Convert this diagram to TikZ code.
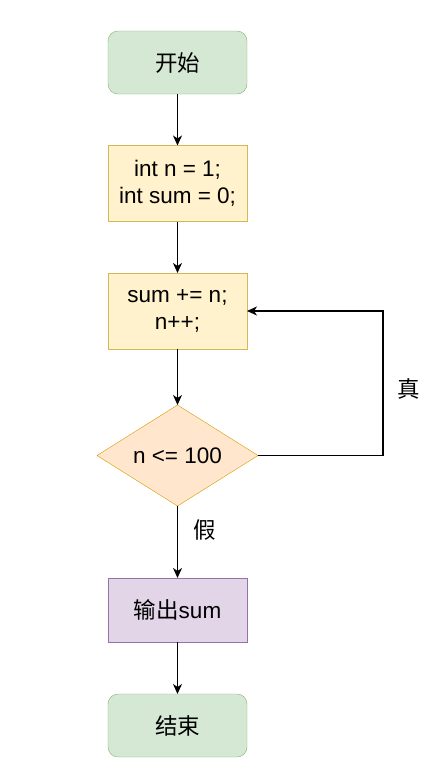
\documentclass[tikz,border=0pt]{standalone}
\usepackage{fontspec}
\setmainfont{Liberation Sans}
\newfontfamily\cjk{Noto Sans CJK SC}
\usetikzlibrary{shapes.geometric,arrows.meta}
\definecolor{termfill}{HTML}{D5E8D4}
\definecolor{termline}{HTML}{82B366}
\definecolor{stepfill}{HTML}{FFF2CC}
\definecolor{stepline}{HTML}{D6B656}
\definecolor{testfill}{HTML}{FFE6CC}
\definecolor{testline}{HTML}{D79B00}
\definecolor{outfill}{HTML}{E1D5E7}
\definecolor{outline}{HTML}{9673A6}
\begin{document}
\begin{tikzpicture}[x=1pt,y=-1pt,
   every node/.style={font=\fontsize{22.5}{27}\selectfont,align=center,outer sep=0pt},
   term/.style={draw=termline,fill=termfill,rounded corners=10pt,minimum width=139pt,minimum height=63pt},
   stepbox/.style={draw=stepline,fill=stepfill,minimum width=139pt,minimum height=76pt},
   test/.style={diamond,draw=testline,fill=testfill,aspect=1.6,minimum width=161pt,minimum height=101pt,inner sep=0pt},
   outbox/.style={draw=outline,fill=outfill,minimum width=139pt,minimum height=64pt},
   flow/.style={line width=1.2pt,-{Stealth[length=10pt,width=9pt,inset=3pt]}},
   lbl/.style={inner sep=0pt}]
\useasboundingbox (0,0) rectangle (437,777);
\node[term] (start) at (177.5,62.5) {{\cjk 开始}};
\node[stepbox] (init) at (177.5,183.5) {int n = 1;\\int sum = 0;};
\node[stepbox] (body) at (177.5,311) {sum += n;\\n++;};
\node[test] (cond) at (177.5,455.5) {n <= 100};
\node[outbox] (print) at (177.5,610) {{\cjk 输出}sum};
\node[term] (stop) at (177.5,725.5) {{\cjk 结束}};
% arrows
\draw[flow] (start) -- (init);
\draw[flow] (init) -- (body);
\draw[flow] (body) -- (cond);
\draw[flow] (cond) -- node[lbl,pos=0.33,right=16pt] {\cjk 假} (print);
\draw[flow] (print) -- (stop);
\draw[flow] (cond.east) -- ++(125,0) |- node[lbl,pos=0.23,right=14pt] {\cjk 真} (body.east);
\end{tikzpicture}
\end{document}
